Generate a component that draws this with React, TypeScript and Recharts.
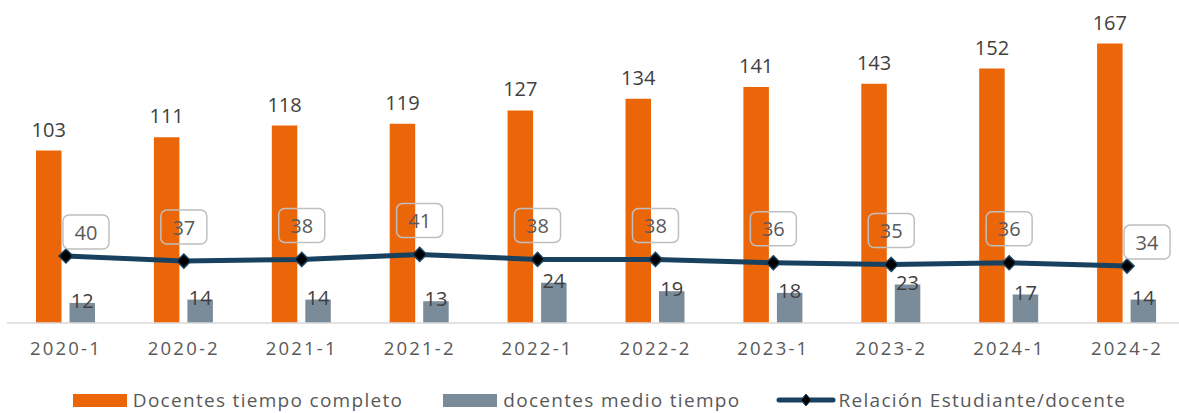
import React from "react";
import { ComposedChart, Bar, Line, XAxis, YAxis, LabelList } from "recharts";

const periods = ["2020-1", "2020-2", "2021-1", "2021-2", "2022-1", "2022-2", "2023-1", "2023-2", "2024-1", "2024-2"];
const tiempoCompleto = [103, 111, 118, 119, 127, 134, 141, 143, 152, 167];
const medioTiempo = [12, 14, 14, 13, 24, 19, 18, 23, 17, 14];
const relacion = [40, 37, 38, 41, 38, 38, 36, 35, 36, 34];

const seriesNames = ["Docentes tiempo completo", "docentes medio tiempo", "Relación Estudiante/docente"];

const ORANGE = "#EB6608";
const GRAY = "#7A8B9A";
const NAVY = "#17415F";
const FONT = "'Open Sans', sans-serif";

const data = periods.map((p, i) => ({
  periodo: p,
  completo: tiempoCompleto[i],
  medio: medioTiempo[i],
  relacion: relacion[i],
}));

function Diamond(props: any) {
  const { cx, cy } = props;
  if (cx == null || cy == null) return null;
  const r = 7;
  return (
    <path
      d={`M${cx},${cy - r} L${cx + r},${cy} L${cx},${cy + r} L${cx - r},${cy} Z`}
      fill="#000"
      stroke={NAVY}
      strokeWidth={1.5}
    />
  );
}

function RatioLabel(props: any) {
  const { x, y, value, index } = props;
  if (x == null || y == null) return null;
  const edge = index === 0 || index === periods.length - 1;
  const cx = x + (edge ? 20 : 0);
  const cy = y + (edge ? -24 : -34);
  const w = 46;
  const h = 34;
  return (
    <g>
      <rect x={cx - w / 2} y={cy - h / 2} width={w} height={h} rx={6} ry={6} fill="none" stroke="#BFBFBF" strokeWidth={1.5} />
      <text x={cx} y={cy} textAnchor="middle" dominantBaseline="central" fontSize={20} fill="#595959" fontFamily={FONT}>
        {value}
      </text>
    </g>
  );
}

function LegendRow() {
  const itemText: React.CSSProperties = { fontSize: 19, color: "#595959", letterSpacing: 1.3, marginLeft: 6 };
  return (
    <div style={{ position: "absolute", left: 10, top: 387, width: 1179, display: "flex", justifyContent: "center", alignItems: "center", fontFamily: FONT }}>
      <div style={{ display: "flex", alignItems: "center", marginRight: 40 }}>
        <div style={{ width: 54, height: 13, background: ORANGE }} />
        <span style={itemText}>{seriesNames[0]}</span>
      </div>
      <div style={{ display: "flex", alignItems: "center", marginRight: 36 }}>
        <div style={{ width: 54, height: 13, background: GRAY }} />
        <span style={itemText}>{seriesNames[1]}</span>
      </div>
      <div style={{ display: "flex", alignItems: "center" }}>
        <svg width={60} height={16}>
          <line x1={3} y1={8} x2={57} y2={8} stroke={NAVY} strokeWidth={5} strokeLinecap="round" />
          <path d="M30,2 L35,8 L30,14 L25,8 Z" fill="#000" stroke={NAVY} strokeWidth={1} />
        </svg>
        <span style={{ ...itemText, marginLeft: 2 }}>{seriesNames[2]}</span>
      </div>
    </div>
  );
}

export default function App() {
  return (
    <div style={{ position: "relative", width: 1179, height: 413, overflow: "hidden", background: "#fff" }}>
      <style>{`body{margin:0}`}</style>
      <ComposedChart
        width={1186}
        height={413}
        data={data}
        margin={{ top: 0, right: 0, bottom: 0, left: 7 }}
        barGap={8}
        barSize={25.5}
      >
        <XAxis
          dataKey="periodo"
          height={90}
          tickLine={false}
          tickSize={0}
          tickMargin={19}
          axisLine={{ stroke: "#D9D9D9", strokeWidth: 1.5 }}
          tick={{ fill: "#595959", fontSize: 18.5, fontFamily: FONT, letterSpacing: 2.2 }}
          interval={0}
        />
        <YAxis hide domain={[0, 193]} />
        <Bar dataKey="completo" name={seriesNames[0]} fill={ORANGE} isAnimationActive={false}>
          <LabelList dataKey="completo" position="top" offset={14} fill="#404040" fontSize={20} fontFamily={FONT} />
        </Bar>
        <Bar dataKey="medio" name={seriesNames[1]} fill={GRAY} isAnimationActive={false}>
          <LabelList dataKey="medio" position="top" offset={-5} fill="#404040" fontSize={20} fontFamily={FONT} />
        </Bar>
        <Line
          dataKey="relacion"
          name={seriesNames[2]}
          type="linear"
          stroke={NAVY}
          strokeWidth={5}
          dot={<Diamond />}
          activeDot={false}
          label={<RatioLabel />}
          isAnimationActive={false}
        />
      </ComposedChart>
      <LegendRow />
    </div>
  );
}
